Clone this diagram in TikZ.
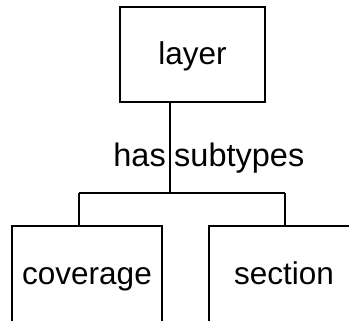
\documentclass[tikz,border=0pt]{standalone}
\usepackage{fontspec}
\setmainfont{Liberation Sans}
\begin{document}
\begin{tikzpicture}[x=1pt,y=-1pt,
  box/.style={draw,line width=1.7pt,inner sep=0pt,text height=24pt,text depth=3pt,
    font=\fontsize{31.5}{36}\selectfont},
  lbl/.style={inner sep=0pt,font=\fontsize{32.5}{38}\selectfont},
  conn/.style={line width=1.7pt}]
\useasboundingbox (0,0) rectangle (349,321);
\clip (0,0) rectangle (349,321);
\node[box,minimum width=145pt,minimum height=95pt] (layer) at (192.5,54.5) {layer};
\node[box,minimum width=150pt,minimum height=96pt] (cov) at (87,274) {coverage};
\node[box,minimum width=150pt,minimum height=96pt] (sec) at (284,274) {section};
\coordinate (j) at (170,193);
\coordinate (jl) at (79,193);
\coordinate (jr) at (285,193);
\draw[conn] (layer.south -| j) -- (j);
\draw[conn] (jl) -- (jr);
\draw[conn] (jl) -- (jl |- cov.north);
\draw[conn] (jr) -- (jr |- sec.north);
\node[lbl,anchor=base east] (has) at (166,167) {has};
\node[lbl,anchor=base west] (sub) at (174,167) {subtypes};
\end{tikzpicture}
\end{document}
